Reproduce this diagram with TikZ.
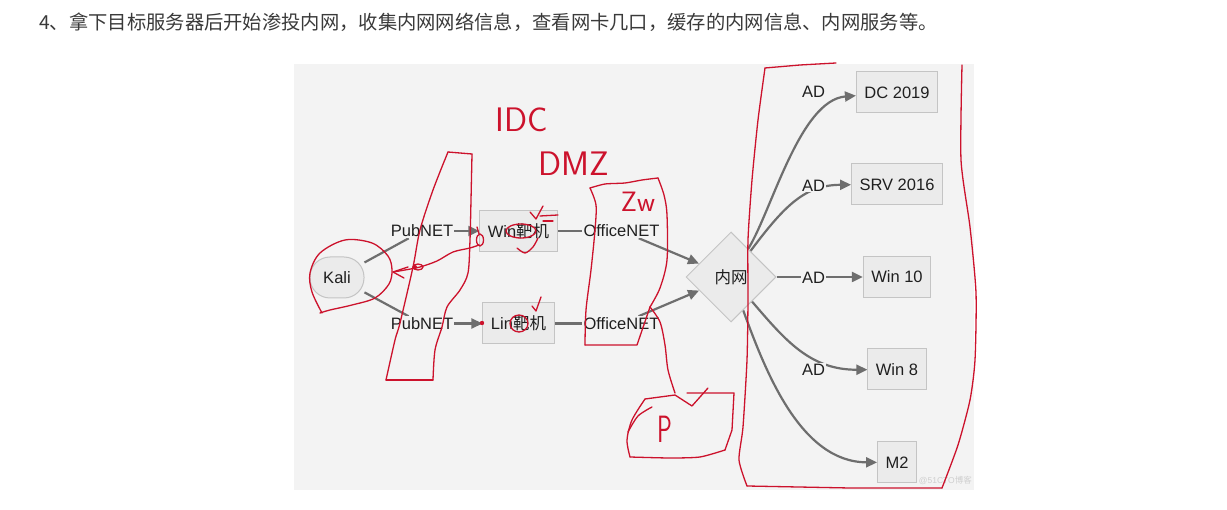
\documentclass[tikz,border=0pt]{standalone}
\usepackage{fontspec}
\setmainfont{Liberation Sans}
\newfontfamily\cjk{Noto Sans CJK SC}
\usetikzlibrary{shapes.geometric,arrows.meta}
\pgfdeclarelayer{panel}
\pgfdeclarelayer{wires}
\pgfdeclarelayer{pen}
\pgfsetlayers{panel,wires,main,pen}
\definecolor{panelbg}{HTML}{F3F3F3}
\definecolor{nodefill}{HTML}{EBEBEB}
\definecolor{nodeline}{HTML}{C4C4C4}
\definecolor{wire}{HTML}{6E6E6E}
\definecolor{inkred}{RGB}{204,18,44}
\definecolor{headtxt}{HTML}{3A3A3A}
\definecolor{wmark}{HTML}{CFCFCF}
\begin{document}
\begin{tikzpicture}[x=1pt,y=-1pt,
  every node/.style={font=\fontsize{16.5}{19}\selectfont, text=black!88},
  hostbox/.style={draw=nodeline,line width=1pt,fill=nodefill,minimum height=41pt,inner xsep=8pt,inner ysep=0pt},
  kalibox/.style={hostbox,rounded corners=20pt,minimum width=54pt},
  hub/.style={diamond,draw=nodeline,line width=1pt,fill=nodefill,minimum width=90pt,minimum height=90pt,inner sep=0pt},
  elabel/.style={fill=panelbg,inner xsep=1pt,inner ysep=1pt},
  wireline/.style={draw=wire,line width=2.2pt},
  wirearrow/.style={wireline,-{Triangle[length=11pt,width=10pt]}},
  redpen/.style={draw=inkred,line width=1.3pt,line cap=round,line join=round},
  redtext/.style={text=inkred,inner sep=0pt}
]
\useasboundingbox (0,0) rectangle (1227,510);
\begin{pgfonlayer}{panel}
  \fill[white] (0,0) rectangle (1227,510);
  \fill[panelbg] (294,64) rectangle (974,490);
\end{pgfonlayer}

% header
\node[anchor=west,inner sep=0pt,text=headtxt,font=\cjk\fontsize{19.3}{22}\selectfont] (head) at (39,22)
  {4、拿下目标服务器后开始渗投内网，收集内网网络信息，查看网卡几口，缓存的内网信息、内网服务等。};

% nodes
\node[kalibox] (kali) at (337,277.5) {Kali};
\node[hostbox] (win) at (518.5,231) {Win{\cjk 靶机}};
\node[hostbox] (lin) at (518.5,323.5) {Lin{\cjk 靶机}};
\node[hub] (hub) at (731,277) {{\cjk 内网}};
\node[hostbox] (dc) at (897,92.5) {DC 2019};
\node[hostbox] (srv) at (897,184.5) {SRV 2016};
\node[hostbox] (w10) at (897,277) {Win 10};
\node[hostbox] (w8) at (897,369.5) {Win 8};
\node[hostbox] (m2) at (897,462.5) {M2};

% edge labels
\node[elabel] (pub1) at (422,231) {PubNET};
\node[elabel] (pub2) at (422,323.5) {PubNET};
\node[elabel] (off1) at (621.5,231) {OfficeNET};
\node[elabel] (off2) at (621.5,323.5) {OfficeNET};
\node[elabel] (ad1) at (813.5,92) {AD};
\node[elabel] (ad2) at (813.5,185.5) {AD};
\node[elabel] (ad3) at (813.5,277.5) {AD};
\node[elabel] (ad4) at (813.5,370) {AD};

\node[anchor=east,inner sep=0pt,text=wmark,font=\fontsize{8.5}{10}\selectfont] (wm) at (972,480) {@51CTO{\cjk 博客}};

% connectors
\begin{pgfonlayer}{wires}
  \draw[wireline] (kali) -- (pub1);
  \draw[wirearrow] (pub1) -- (win);
  \draw[wireline] (kali) -- (pub2);
  \draw[wirearrow] (pub2) -- (lin);
  \draw[wireline] (win) -- (off1);
  \draw[wirearrow] (off1) -- (hub);
  \draw[wireline] (lin) -- (off2);
  \draw[wirearrow] (off2) -- (hub);
  \draw[wirearrow] (hub) .. controls (772,210) and (800,100) .. (dc);
  \draw[wirearrow] (hub) .. controls (785,205) and (805,185) .. (srv);
  \draw[wirearrow] (hub) -- (w10);
  \draw[wirearrow] (hub) .. controls (785,340) and (810,370) .. (w8);
  \draw[wirearrow] (hub) .. controls (765,370) and (800,462) .. (m2);
\end{pgfonlayer}

% red hand annotations
\begin{pgfonlayer}{pen}
  \node[redtext,font=\sffamily\fontsize{34}{36}\selectfont] (idc) at (522,120) {IDC};
  \node[redtext,font=\sffamily\fontsize{34}{36}\selectfont] (dmz) at (574,164) {DMZ};
  \node[redtext,font=\sffamily\fontsize{28}{30}\selectfont] (zw) at (638,202) {Zw};
  \node[redtext,font=\sffamily\fontsize{38}{40}\selectfont] (pp) at (665,429) {\scalebox{0.65}[1]{P}};

  % IDC zone band
  \draw[redpen] plot[smooth,tension=0.5] coordinates {(386,380) (395,340) (400,323) (413,267) (420,230) (433,190) (448,152)};
  \draw[redpen] (448,152) -- (460,153) -- (472,154);
  \draw[redpen] plot[smooth,tension=0.5] coordinates {(472,154) (471,200) (470,240) (468,273) (460,290) (447,307) (442,327) (435,350) (433,380)};
  \draw[redpen] (433,380) -- (386,380);

  % loop round Kali
  \draw[redpen] plot[smooth,tension=0.55] coordinates {(322,313) (312,292) (310,273) (320,253) (345,240) (372,243) (388,256) (392,270) (389,284) (375,298) (352,305) (330,310) (320,313)};

  % red arrow back to Kali
  \draw[redpen] (477,227) -- (479,234);
  \draw[redpen] (480,240) ellipse [x radius=3.5pt, y radius=6pt];
  \draw[redpen] plot[smooth,tension=0.5] coordinates {(479,245) (470,248) (453,252) (437,261) (420,267) (405,270) (393,272)};
  \draw[redpen] (408,267) -- (393,272) -- (404,278);
  \draw[redpen] (418,267) ellipse [x radius=5pt, y radius=3pt];
  \fill[inkred] (415,267) circle (2pt);

  % marks on Win target
  \draw[redpen] (521,231) ellipse [x radius=15pt, y radius=7pt];
  \draw[redpen] (530,212) -- (536,219) -- (543,206);
  \draw[redpen] (540,216) -- (558,215);
  \draw[redpen] (543,221) -- (553,221);
  \draw[redpen] plot[smooth,tension=0.5] coordinates {(517,248) (525,253) (533,247) (538,238)};

  % marks on Lin target
  \draw[redpen] (532,306) -- (536,311) -- (541,297);
  \draw[redpen] (519,323.5) ellipse [x radius=9pt, y radius=8.5pt];
  \fill[inkred] (482,323) circle (2.2pt);

  % ZW band
  \draw[redpen] plot[smooth,tension=0.4] coordinates {(590,188) (605,184) (625,183) (642,180) (658,178)};
  \draw[redpen] plot[smooth,tension=0.5] coordinates {(658,178) (664,195) (667,215) (667,260) (660,288) (650,307)};
  \draw[redpen] (650,307) -- (637,345) -- (585,345);
  \draw[redpen] plot[smooth,tension=0.5] coordinates {(585,345) (586,310) (591,270) (595,230) (596,205) (590,188)};
  \draw[redpen] plot[smooth,tension=0.5] coordinates {(650,307) (660,322) (665,345) (668,370) (675,393)};

  % P box
  \draw[redpen] (645,399) -- (675,395) -- (692,406) -- (708,388);
  \draw[redpen] (687,393) -- (734,393) -- (732,430) -- (725,450);
  \draw[redpen] plot[smooth,tension=0.4] coordinates {(725,450) (700,457) (670,458) (630,457)};
  \draw[redpen] plot[smooth,tension=0.5] coordinates {(630,457) (627,440) (632,420) (645,399)};
  \draw[redpen] plot[smooth,tension=0.5] coordinates {(628,432) (638,416) (652,407)};

  % big internal-network zone
  \draw[redpen] (765,68) -- (800,65) -- (836,63);
  \draw[redpen] plot[smooth,tension=0.4] coordinates {(765,68) (758,120) (752,180) (748,240) (748,300) (747,360) (743,427) (739,460) (747,486)};
  \draw[redpen] (747,486) -- (850,488) -- (942,488);
  \draw[redpen] plot[smooth,tension=0.4] coordinates {(942,488) (958,445) (970,400) (975,360) (976,293) (970,227) (961,160) (962,65)};
\end{pgfonlayer}
\end{tikzpicture}
\end{document}
